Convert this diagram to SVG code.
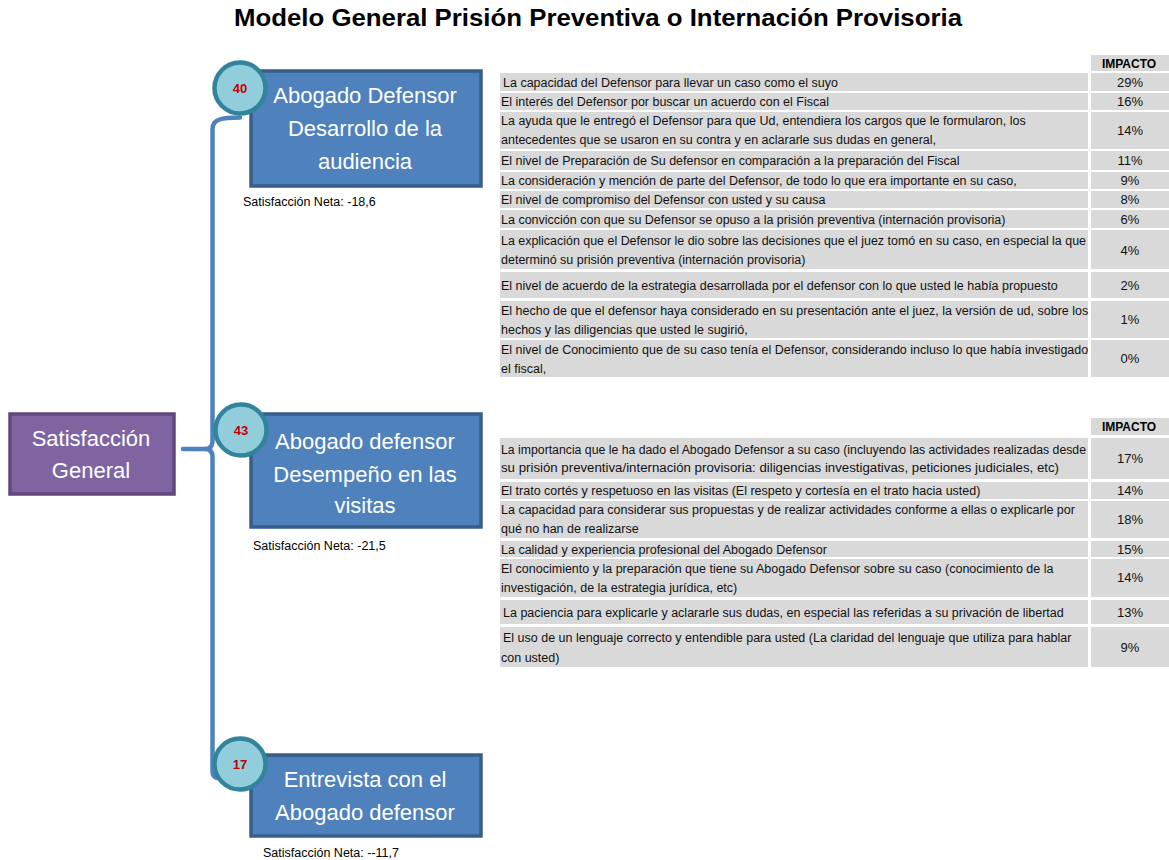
<svg xmlns="http://www.w3.org/2000/svg" width="1169" height="860" viewBox="0 0 1169 860">
<style>
.title{font-family:"Liberation Sans",Arial,sans-serif;font-weight:bold;font-size:23px;fill:#000}
.box{fill:#4F81BD;stroke:#385D8A;stroke-width:3.5}
.pbox{fill:#8064A2;stroke:#5F497A;stroke-width:3.5}
.nt{font-family:"Liberation Sans",Arial,sans-serif;font-size:22px;fill:#fff;text-anchor:middle}
.circ{fill:#92CDDC;stroke:#31849B;stroke-width:4.5}
.num{font-family:"Liberation Sans",Arial,sans-serif;font-size:13px;font-weight:bold;fill:#C00000;text-anchor:middle}
.neta{font-family:"Liberation Sans",Arial,sans-serif;font-size:12.5px;fill:#000}
.cell{fill:#D9D9D9}
.tt{font-family:"Liberation Sans",Arial,sans-serif;font-size:12.5px;fill:#111}
.pc{font-family:"Liberation Sans",Arial,sans-serif;font-size:13px;fill:#111;text-anchor:middle}
.hd{font-family:"Liberation Sans",Arial,sans-serif;font-size:12px;font-weight:bold;fill:#000;text-anchor:middle}
.conn{fill:none;stroke:#4F81BD;stroke-width:4.5;stroke-linecap:round;stroke-linejoin:round}
</style>
<rect width="1169" height="860" fill="#fff"/>
<text class="title" x="598" y="26" text-anchor="middle" textLength="728" lengthAdjust="spacingAndGlyphs">Modelo General Prisión Preventiva o Internación  Provisoria</text>

<g id="connectors">
<path class="conn" d="M240,117.5 C222,117.5 212.5,119 212.5,129 L212.5,441 Q212.5,449 205,449 Q212.5,449 212.5,457 L212.5,771 Q212.5,777 217,778"/>
<path class="conn" d="M183,449 L206,449"/>
</g>

<g id="node-general">
<rect class="pbox" x="10" y="414" width="164" height="80"/>
<text class="nt" x="91" y="446">Satisfacción</text>
<text class="nt" x="91" y="478">General</text>
</g>

<g id="node-audiencia">
<rect class="box" x="251" y="71" width="230" height="115"/>
<text class="nt" x="365" y="103">Abogado Defensor</text>
<text class="nt" x="365" y="136">Desarrollo de la</text>
<text class="nt" x="365" y="169">audiencia</text>
<circle class="circ" cx="240" cy="88" r="25.5"/>
<text class="num" x="240" y="93">40</text>
<text class="neta" x="243" y="206">Satisfacción Neta: -18,6</text>
</g>

<g id="node-visitas">
<rect class="box" x="251" y="414" width="230" height="113"/>
<text class="nt" x="365" y="449">Abogado defensor</text>
<text class="nt" x="365" y="482">Desempeño en las</text>
<text class="nt" x="365" y="513">visitas</text>
<circle class="circ" cx="241" cy="430" r="25.5"/>
<text class="num" x="241" y="435">43</text>
<text class="neta" x="253" y="550">Satisfacción Neta: -21,5</text>
</g>

<g id="node-entrevista">
<rect class="box" x="251" y="755" width="230" height="81"/>
<text class="nt" x="365" y="787">Entrevista con el</text>
<text class="nt" x="365" y="820">Abogado defensor</text>
<circle class="circ" cx="240" cy="764" r="25.5"/>
<text class="num" x="240" y="769">17</text>
<text class="neta" x="263" y="857">Satisfacción Neta: --11,7</text>
</g>

<g id="table-audiencia">
<rect class="cell" x="1091" y="55" width="78" height="16"/>
<text class="hd" x="1129" y="67.5">IMPACTO</text>
<rect class="cell" x="500" y="73" width="588" height="18"/><rect class="cell" x="1091" y="73" width="78" height="18"/>
<text class="tt" x="503" y="86.5"> La capacidad del Defensor para llevar un caso como el suyo</text><text class="pc" x="1130" y="86.5">29%</text>
<rect class="cell" x="500" y="93" width="588" height="17"/><rect class="cell" x="1091" y="93" width="78" height="17"/>
<text class="tt" x="501" y="106">El interés del Defensor por buscar un acuerdo con el Fiscal</text><text class="pc" x="1130" y="106">16%</text>
<rect class="cell" x="500" y="112" width="588" height="37"/><rect class="cell" x="1091" y="112" width="78" height="37"/>
<text class="tt" x="501" y="125">La ayuda que le entregó el Defensor para que Ud, entendiera los cargos que le formularon, los</text>
<text class="tt" x="501" y="143.5">antecedentes que se usaron en su contra y en aclararle sus dudas en general,</text><text class="pc" x="1130" y="135">14%</text>
<rect class="cell" x="500" y="151" width="588" height="19"/><rect class="cell" x="1091" y="151" width="78" height="19"/>
<text class="tt" x="501" y="165">El nivel de Preparación de Su defensor en comparación a la preparación del Fiscal</text><text class="pc" x="1130" y="165">11%</text>
<rect class="cell" x="500" y="172" width="588" height="17"/><rect class="cell" x="1091" y="172" width="78" height="17"/>
<text class="tt" x="501" y="185">La consideración y mención de parte del Defensor, de todo lo que era importante en su caso,</text><text class="pc" x="1130" y="185">9%</text>
<rect class="cell" x="500" y="191" width="588" height="17"/><rect class="cell" x="1091" y="191" width="78" height="17"/>
<text class="tt" x="501" y="204">El nivel de compromiso del Defensor con usted y su causa</text><text class="pc" x="1130" y="204">8%</text>
<rect class="cell" x="500" y="210" width="588" height="18"/><rect class="cell" x="1091" y="210" width="78" height="18"/>
<text class="tt" x="501" y="223.5">La convicción con que su Defensor se opuso a la prisión preventiva (internación provisoria)</text><text class="pc" x="1130" y="223.5">6%</text>
<rect class="cell" x="500" y="230" width="588" height="39"/><rect class="cell" x="1091" y="230" width="78" height="39"/>
<text class="tt" x="501" y="244.5" textLength="585" lengthAdjust="spacingAndGlyphs">La explicación que el Defensor le dio sobre las decisiones que el juez tomó en su caso, en especial la que</text>
<text class="tt" x="501" y="263.5">determinó su prisión preventiva (internación provisoria)</text><text class="pc" x="1130" y="254.5">4%</text>
<rect class="cell" x="500" y="272" width="588" height="26"/><rect class="cell" x="1091" y="272" width="78" height="26"/>
<text class="tt" x="501" y="289.5">El nivel de acuerdo de la estrategia desarrollada por el defensor con lo que usted le había propuesto</text><text class="pc" x="1130" y="289.5">2%</text>
<rect class="cell" x="500" y="301" width="588" height="37"/><rect class="cell" x="1091" y="301" width="78" height="37"/>
<text class="tt" x="501" y="314.5">El hecho de que el defensor haya considerado en su presentación ante el juez, la versión de ud, sobre los</text>
<text class="tt" x="501" y="333.5">hechos y las diligencias que usted le sugirió,</text><text class="pc" x="1130" y="324">1%</text>
<rect class="cell" x="500" y="340" width="588" height="37"/><rect class="cell" x="1091" y="340" width="78" height="37"/>
<text class="tt" x="501" y="353.5">El nivel de Conocimiento que de su caso tenía el Defensor, considerando incluso lo que había investigado</text>
<text class="tt" x="501" y="372.5">el fiscal,</text><text class="pc" x="1130" y="363">0%</text>
</g>

<g id="table-visitas">
<rect class="cell" x="1091" y="418" width="78" height="17"/>
<text class="hd" x="1129" y="431">IMPACTO</text>
<rect class="cell" x="500" y="438" width="588" height="41"/><rect class="cell" x="1091" y="438" width="78" height="41"/>
<text class="tt" x="501" y="453.5" textLength="585" lengthAdjust="spacingAndGlyphs">La importancia que le ha dado el Abogado Defensor a su caso (incluyendo las actividades realizadas desde</text>
<text class="tt" x="501" y="471.5" textLength="558" lengthAdjust="spacingAndGlyphs">su prisión preventiva/internación provisoria: diligencias investigativas, peticiones judiciales, etc)</text><text class="pc" x="1130" y="462.5">17%</text>
<rect class="cell" x="500" y="482" width="588" height="17"/><rect class="cell" x="1091" y="482" width="78" height="17"/>
<text class="tt" x="501" y="495">El trato cortés y respetuoso en las visitas (El respeto y cortesía en el trato hacia usted)</text><text class="pc" x="1130" y="495">14%</text>
<rect class="cell" x="500" y="501" width="588" height="37"/><rect class="cell" x="1091" y="501" width="78" height="37"/>
<text class="tt" x="501" y="513.5">La capacidad para considerar sus propuestas y de realizar actividades conforme a ellas o explicarle por</text>
<text class="tt" x="501" y="532.5">qué no han de realizarse</text><text class="pc" x="1130" y="523.5">18%</text>
<rect class="cell" x="500" y="541" width="588" height="16"/><rect class="cell" x="1091" y="541" width="78" height="16"/>
<text class="tt" x="501" y="553.5">La calidad y experiencia profesional del Abogado Defensor</text><text class="pc" x="1130" y="553.5">15%</text>
<rect class="cell" x="500" y="559" width="588" height="38"/><rect class="cell" x="1091" y="559" width="78" height="38"/>
<text class="tt" x="501" y="572.5">El conocimiento y la preparación que tiene su  Abogado Defensor sobre su caso (conocimiento de la</text>
<text class="tt" x="501" y="591.5">investigación, de la estrategia jurídica, etc)</text><text class="pc" x="1130" y="582">14%</text>
<rect class="cell" x="500" y="600" width="588" height="24"/><rect class="cell" x="1091" y="600" width="78" height="24"/>
<text class="tt" x="503" y="616.5">La paciencia para explicarle y aclararle sus dudas, en especial las referidas a su privación de libertad</text><text class="pc" x="1130" y="616.5">13%</text>
<rect class="cell" x="500" y="627" width="588" height="40"/><rect class="cell" x="1091" y="627" width="78" height="40"/>
<text class="tt" x="503" y="641.5">El uso de un lenguaje correcto y entendible para usted (La claridad del lenguaje que utiliza para hablar</text>
<text class="tt" x="501" y="661.5">con usted)</text><text class="pc" x="1130" y="652">9%</text>
</g>
</svg>
